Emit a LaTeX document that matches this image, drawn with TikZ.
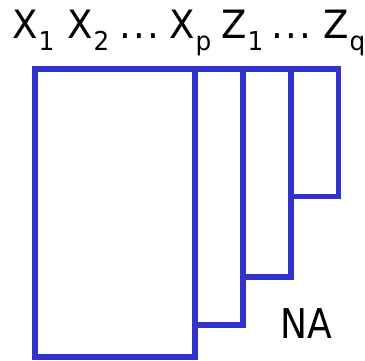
\documentclass[tikz,border=0pt]{standalone}
\usepackage{fontspec}
\setmainfont{DejaVu Sans}[FakeStretch=0.95]
\newfontfamily\nafont{DejaVu Sans}[FakeStretch=0.88]
\definecolor{boxblue}{RGB}{51,51,204}
\newcommand{\subs}[1]{\hspace{1pt}\raisebox{-12pt}{\fontsize{26}{26}\selectfont #1}}
\newcommand{\mydots}{.\hspace{2.4pt}.\hspace{2.4pt}.}
\begin{document}
\begin{tikzpicture}[x=1pt,y=-1pt,
  blk/.style={draw=boxblue,line width=5.5pt},
  lbl/.style={inner sep=0pt,anchor=base west,font=\fontsize{39}{39}\selectfont},
  nalbl/.style={inner sep=0pt,anchor=base west,font=\nafont\fontsize{41}{41}\selectfont}]
\useasboundingbox (0,0) rectangle (365,361);
\draw[blk] (35,69) rectangle (195,357);
\draw[blk] (195,69) rectangle (243,325);
\draw[blk] (243,69) rectangle (291,277);
\draw[blk] (291,69) rectangle (338.5,196.5);
\node[lbl] (x1) at (12,39) {X\subs{1}};
\node[lbl] (x2) at (67,39) {X\subs{2}};
\node[lbl] (d1) at (119,39) {\mydots};
\node[lbl] (xp) at (169,39) {X\subs{p}};
\node[lbl] (z1) at (221,39) {Z\subs{1}};
\node[lbl] (d2) at (271,39) {\mydots};
\node[lbl] (zq) at (323,39) {Z\subs{q}};
\node[nalbl] (na) at (280,338) {NA};
\end{tikzpicture}
\end{document}
